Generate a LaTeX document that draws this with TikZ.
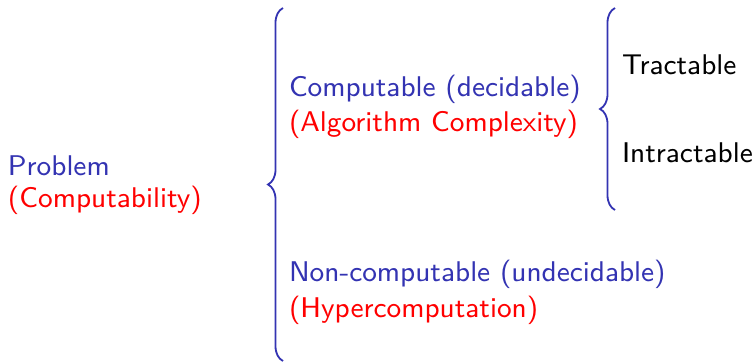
\documentclass[tikz,border=0pt]{standalone}
\usepackage{fontspec}
\setsansfont{lmsans9-regular.otf}
\usetikzlibrary{decorations.pathreplacing}
\definecolor{sblue}{RGB}{51,51,178}
\definecolor{sred}{RGB}{255,0,0}
\begin{document}
\begin{tikzpicture}[x=1pt,y=1pt,
  every node/.style={inner sep=0pt,outer sep=0pt,anchor=base west,font=\sffamily\fontsize{28.5}{34}\selectfont},
  bluetext/.style={text=sblue},
  redtext/.style={text=sred},
  blacktext/.style={text=black},
  bracestyle/.style={draw=sblue,line width=1.8pt,decorate,decoration={brace,amplitude=15pt}}]
\useasboundingbox (0,0) rectangle (755,-363);
\node[bluetext] (prob) at (8,-176) {Problem};
\node[redtext] (probsub) at (8,-208) {(Computability)};
\node[bluetext] (comp) at (289,-97) {Computable (decidable)};
\node[redtext] (compsub) at (289,-132) {(Algorithm Complexity)};
\node[bluetext] (noncomp) at (289,-282) {Non-computable (undecidable)};
\node[redtext] (noncompsub) at (289,-317) {(Hypercomputation)};
\node[blacktext] (tract) at (622,-75) {Tractable};
\node[blacktext] (intract) at (622,-163) {Intractable};
\coordinate (bigtop) at (283,-8);
\coordinate (bigbot) at (283,-361);
\coordinate (smalltop) at (615,-8);
\coordinate (smallbot) at (615,-210);
\draw[bracestyle] (bigbot) -- (bigtop);
\draw[bracestyle] (smallbot) -- (smalltop);
\end{tikzpicture}
\end{document}
